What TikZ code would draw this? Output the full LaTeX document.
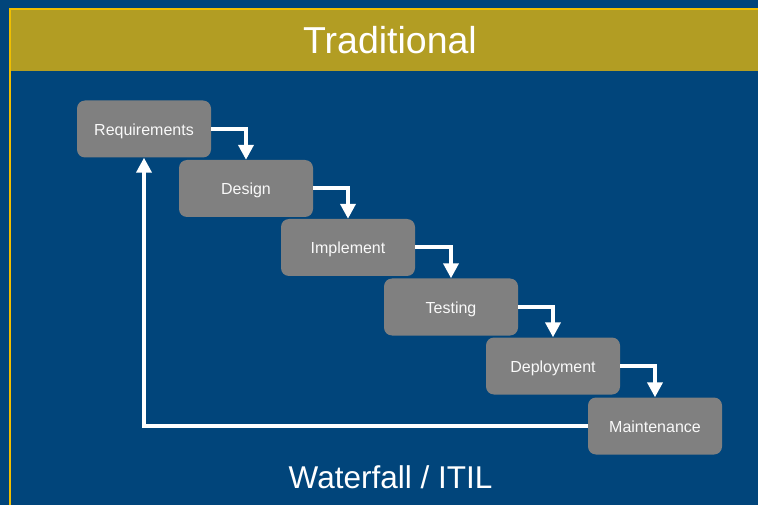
\documentclass[tikz,border=0pt]{standalone}
\usepackage{fontspec}
\setmainfont{Liberation Sans}
\usetikzlibrary{arrows.meta}
\definecolor{bgblue}{RGB}{1,69,123}
\definecolor{goldband}{RGB}{178,157,35}
\definecolor{goldline}{RGB}{240,190,0}
\definecolor{boxgray}{RGB}{128,128,128}
\begin{document}
\begin{tikzpicture}[x=1pt,y=-1pt,
  stage/.style={fill=boxgray, rounded corners=8pt, minimum width=134pt, minimum height=57pt, inner sep=0pt, text height=13pt, text depth=0pt, text=white!95!gray, font=\fontsize{16}{19}\selectfont},
  flow/.style={draw=white, line width=4pt, -{Triangle[width=15pt,length=15pt]}}]
\fill[bgblue] (0,0) rectangle (758,505);
\useasboundingbox (0,0) rectangle (758,505);
\fill[goldband] (10,8) rectangle (758,71);
\draw[goldline, line width=2pt] (10,505) -- (10,9) -- (758,9);
\node[text=white, anchor=base, inner sep=0pt, font=\fontsize{37.5}{40}\selectfont] (title) at (390,54) {Traditional};
\node (req) [stage] at (144,129) {Requirements};
\node (des) [stage] at (246,188.5) {Design};
\node (imp) [stage] at (348,247.5) {Implement};
\node (tes) [stage] at (451,307) {Testing};
\node (dep) [stage] at (553,366) {Deployment};
\node (mai) [stage] at (655,426) {Maintenance};
\draw[flow] (req.east) -| (des.north);
\draw[flow] (des.east) -| (imp.north);
\draw[flow] (imp.east) -| (tes.north);
\draw[flow] (tes.east) -| (dep.north);
\draw[flow] (dep.east) -| (mai.north);
\draw[flow] (mai.west) -| (req.south);
\node[text=white, anchor=base, inner sep=0pt, font=\fontsize{31.5}{36}\selectfont] (sub) at (390.5,488) {Waterfall / ITIL};
\end{tikzpicture}
\end{document}
